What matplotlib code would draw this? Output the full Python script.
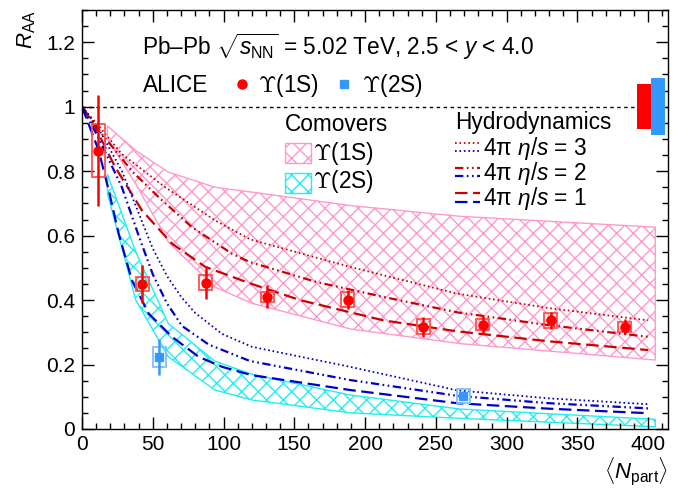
import numpy as np
import matplotlib
matplotlib.use("Agg")
import matplotlib.pyplot as plt
from matplotlib.patches import Rectangle
from matplotlib.ticker import MultipleLocator

plt.rcParams['font.family'] = ['Liberation Sans', 'DejaVu Sans']
plt.rcParams['mathtext.fontset'] = 'custom'
plt.rcParams['mathtext.rm'] = 'Liberation Sans'
plt.rcParams['mathtext.it'] = 'Liberation Sans:italic'
plt.rcParams['mathtext.bf'] = 'Liberation Sans:bold'
plt.rcParams['hatch.linewidth'] = 1.0
plt.rcParams['lines.scale_dashes'] = False

# ALICE Upsilon(1S) R_AA vs <Npart>
npart_1s = [11.4, 42.6, 87.4, 130.9, 187.7, 241.0, 283.0, 331.3, 383.6]
raa_1s = [0.864, 0.450, 0.454, 0.410, 0.401, 0.317, 0.324, 0.337, 0.317]
stat_1s = [0.172, 0.059, 0.052, 0.036, 0.030, 0.031, 0.028, 0.027, 0.023]
syst_1s = [0.082, 0.023, 0.024, 0.016, 0.023, 0.023, 0.017, 0.023, 0.015]

# ALICE Upsilon(2S)
npart_2s = [54.6, 269.4]
raa_2s = [0.224, 0.103]
stat_2s = [0.056, 0.014]
syst_2s = [0.031, 0.021]

# global uncertainties (drawn at R_AA = 1)
glob_1s = 0.07
glob_2s = 0.089

# comover model bands
com_x = [18, 38, 61, 94, 120, 190, 267, 405]
com_1s_hi = [0.940, 0.864, 0.797, 0.750, 0.735, 0.693, 0.660, 0.626]
com_1s_lo = [0.900, 0.760, 0.580, 0.440, 0.390, 0.310, 0.265, 0.214]
com_2s_hi = [0.790, 0.550, 0.327, 0.210, 0.170, 0.105, 0.062, 0.030]
com_2s_lo = [0.730, 0.400, 0.224, 0.121, 0.090, 0.050, 0.033, 0.007]

# hydrodynamic model curves, 4pi eta/s = 1, 2, 3
hyd1_1s_x = [0, 9.4, 23.5, 42.4, 63.6, 87.1, 118, 154, 213, 265, 330, 400]
hyd1_1s_y = [1, 0.936, 0.812, 0.678, 0.575, 0.503, 0.453, 0.400, 0.337, 0.303, 0.272, 0.245]
hyd2_1s_x = [0, 14.1, 35.3, 54.2, 77.7, 105.9, 118.6, 165.7, 212.8, 265, 330, 400]
hyd2_1s_y = [1, 0.915, 0.800, 0.719, 0.626, 0.544, 0.518, 0.456, 0.410, 0.362, 0.322, 0.286]
hyd3_1s_x = [0, 10, 28.2, 58.8, 94.1, 119, 189.3, 265, 330, 400]
hyd3_1s_y = [1, 0.950, 0.853, 0.750, 0.647, 0.588, 0.503, 0.420, 0.375, 0.337]

hyd1_2s_x = [0, 11.8, 18.9, 25.9, 35.3, 47.1, 63.6, 82.4, 98.9, 120, 189.3, 265, 330, 400]
hyd1_2s_y = [1, 0.864, 0.740, 0.606, 0.461, 0.358, 0.286, 0.224, 0.193, 0.167, 0.121, 0.080, 0.063, 0.049]
hyd2_2s_x = [0, 12, 28.2, 40, 50, 60, 70.6, 89.5, 118.6, 189.3, 265, 330, 400]
hyd2_2s_y = [1, 0.900, 0.750, 0.600, 0.480, 0.390, 0.320, 0.262, 0.211, 0.152, 0.103, 0.080, 0.064]
hyd3_2s_x = [0, 12, 28.2, 40, 50, 60, 70, 80, 99, 120, 189.3, 265, 330, 400]
hyd3_2s_y = [1, 0.930, 0.800, 0.670, 0.560, 0.475, 0.410, 0.360, 0.295, 0.255, 0.193, 0.120, 0.095, 0.077]

red = '#cc0000'
blue = '#0000cc'
pink = '#ff99cc'
cyan = '#22eeee'
dash_long = (0, (9, 4))
dash_dot = (0, (6, 2.5, 1.2, 2.5, 1.2, 2.5))
dots = (0, (1.2, 2.0))
fs = 16.3

fig = plt.figure(figsize=(6.75, 4.92), dpi=100)
ax = fig.add_axes([82 / 675, 1 - 429 / 492, 586 / 675, 419 / 492])

# comover bands
ax.fill_between(com_x, com_1s_lo, com_1s_hi, facecolor='none', edgecolor=pink,
                hatch='xx', lw=1.0, zorder=1)
ax.fill_between(com_x, com_2s_lo, com_2s_hi, facecolor='none', edgecolor=cyan,
                hatch='xx', lw=1.0, zorder=1)

# hydro curves
ax.plot(hyd3_1s_x, hyd3_1s_y, color=red, lw=1.3, linestyle=dots, zorder=2)
ax.plot(hyd2_1s_x, hyd2_1s_y, color=red, lw=1.6, linestyle=dash_dot, zorder=2)
ax.plot(hyd1_1s_x, hyd1_1s_y, color=red, lw=1.6, linestyle=dash_long, zorder=2)
ax.plot(hyd3_2s_x, hyd3_2s_y, color=blue, lw=1.3, linestyle=dots, zorder=2)
ax.plot(hyd2_2s_x, hyd2_2s_y, color=blue, lw=1.6, linestyle=dash_dot, zorder=2)
ax.plot(hyd1_2s_x, hyd1_2s_y, color=blue, lw=1.6, linestyle=dash_long, zorder=2)

# unity line
ax.axhline(1.0, color='black', lw=1.0, linestyle=(0, (2.5, 2.5)), zorder=1)

# systematic boxes
box_hw = 4.6
for x, y, s in zip(npart_1s, raa_1s, syst_1s):
    ax.add_patch(Rectangle((x - box_hw, y - s), 2 * box_hw, 2 * s, fill=False,
                           edgecolor='#ff5050', lw=1.3, zorder=3))
for x, y, s in zip(npart_2s, raa_2s, syst_2s):
    ax.add_patch(Rectangle((x - box_hw, y - s), 2 * box_hw, 2 * s, fill=False,
                           edgecolor='#7fbfff', lw=1.3, zorder=3))

# data points with stat errors
ax.errorbar(npart_1s, raa_1s, yerr=stat_1s, fmt='o', color='#ff0000', ms=6.5,
            elinewidth=1.8, capsize=0, zorder=4)
ax.errorbar(npart_2s, raa_2s, yerr=stat_2s, fmt='s', color='#3399ff', ms=5.5,
            elinewidth=1.8, capsize=0, zorder=4)

# global uncertainty boxes
ax.add_patch(Rectangle((392, 1 - glob_1s), 10, 2 * glob_1s, color='#ff0000', lw=0, zorder=5))
ax.add_patch(Rectangle((402, 1 - glob_2s), 10, 2 * glob_2s, color='#3399ff', lw=0, zorder=5))

ax.set_xlim(0, 414)
ax.set_ylim(0, 1.3)
ax.xaxis.set_major_locator(MultipleLocator(50))
ax.xaxis.set_minor_locator(MultipleLocator(10))
ax.yaxis.set_major_locator(MultipleLocator(0.2))
ax.yaxis.set_minor_locator(MultipleLocator(0.05))
ax.yaxis.set_major_formatter(plt.FuncFormatter(lambda v, p: '%g' % round(v, 2)))
ax.tick_params(which='both', direction='in', top=True, right=True, width=1.0,
               labelsize=15)
ax.tick_params(which='major', length=8.5)
ax.tick_params(which='minor', length=4.3)
ax.tick_params(axis='x', pad=4)
ax.tick_params(axis='y', pad=5)
for sp in ax.spines.values():
    sp.set_linewidth(1.0)

ax.set_ylabel(r'$R_{\rm AA}$', fontsize=16, loc='top', labelpad=6)
ax.set_xlabel(r'$\langle N_{\rm part}\rangle$', fontsize=16, loc='right', labelpad=2)

# header texts
ax.text(0.1032, 0.8926, r'Pb–Pb $\sqrt{s_{\rm NN}}$ = 5.02 TeV, 2.5 < $y$ < 4.0',
        transform=ax.transAxes, fontsize=fs, va='baseline')
ax.text(0.1032, 0.805, 'ALICE', transform=ax.transAxes, fontsize=fs, va='baseline')
ax.plot([0.273], [0.8234], 'o', color='#ff0000', ms=6.5, transform=ax.transAxes, clip_on=False)
ax.text(0.3003, 0.805, r'$\Upsilon$(1S)', transform=ax.transAxes, fontsize=fs,
        va='baseline', math_fontfamily='cm')
ax.plot([0.4478], [0.8234], 's', color='#3399ff', ms=5.5, transform=ax.transAxes, clip_on=False)
ax.text(0.4778, 0.805, r'$\Upsilon$(2S)', transform=ax.transAxes, fontsize=fs,
        va='baseline', math_fontfamily='cm')

# comovers legend
ax.text(0.3464, 0.7279, 'Comovers', transform=ax.transAxes, fontsize=fs, va='center')
ax.add_patch(Rectangle((0.3464, 0.634), 0.0439, 0.048, transform=ax.transAxes,
                       facecolor='none', edgecolor=pink, hatch='xx', lw=1.0))
ax.text(0.3937, 0.6587, r'$\Upsilon$(1S)', transform=ax.transAxes, fontsize=fs,
        va='center', math_fontfamily='cm')
ax.add_patch(Rectangle((0.3464, 0.564), 0.0439, 0.048, transform=ax.transAxes,
                       facecolor='none', edgecolor=cyan, hatch='xx', lw=1.0))
ax.text(0.3937, 0.5902, r'$\Upsilon$(2S)', transform=ax.transAxes, fontsize=fs,
        va='center', math_fontfamily='cm')

# hydrodynamics legend
ax.text(0.6365, 0.731, 'Hydrodynamics', transform=ax.transAxes, fontsize=fs, va='center')
hyd_rows = [(dots, 1.3, 0.6833, 0.6642, 0.6699, '3'),
            (dash_dot, 1.6, 0.6222, 0.6038, 0.6086, '2'),
            (dash_long, 1.6, 0.5625, 0.5425, 0.5506, '1')]
for ls, lw, yr, yb, yt, val in hyd_rows:
    ax.plot([0.6365, 0.6792], [yr, yr], color=red, lw=lw, linestyle=ls, transform=ax.transAxes)
    ax.plot([0.6365, 0.6792], [yb, yb], color=blue, lw=lw, linestyle=ls, transform=ax.transAxes)
    ax.text(0.6848, yt, r'4π $\eta/s$ = ' + val, transform=ax.transAxes, fontsize=fs,
            va='center')

fig.savefig('out.png', dpi=100)
